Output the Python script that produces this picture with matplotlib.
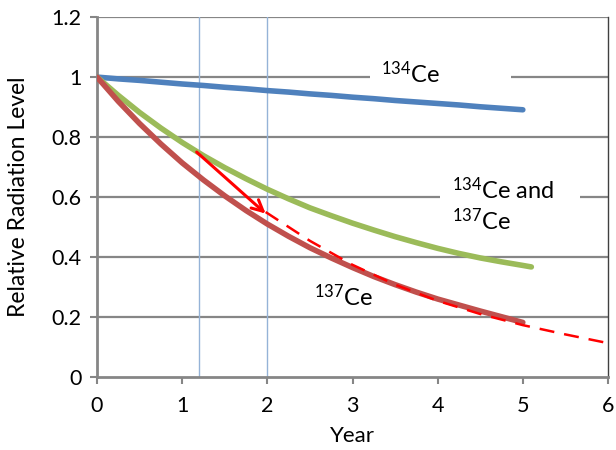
import matplotlib
matplotlib.use("Agg")
import matplotlib.pyplot as plt
from matplotlib.patches import Rectangle

plt.rcParams['font.family'] = ['Lato', 'DejaVu Sans']
plt.rcParams['mathtext.fontset'] = 'custom'
plt.rcParams['mathtext.rm'] = 'Lato'
plt.rcParams['mathtext.it'] = 'Lato'

# values
years = [0, 0.25, 0.5, 0.75, 1, 1.25, 1.5, 1.75, 2, 2.25, 2.5, 2.75, 3,
         3.25, 3.5, 3.75, 4, 4.25, 4.5, 4.75, 5]
blue = [1, 0.994, 0.989, 0.983, 0.977, 0.972, 0.966, 0.961, 0.955, 0.950,
        0.944, 0.939, 0.933, 0.928, 0.922, 0.917, 0.912, 0.907, 0.901, 0.896, 0.891]
red = [1, 0.919, 0.845, 0.777, 0.714, 0.657, 0.604, 0.555, 0.510, 0.469,
       0.431, 0.397, 0.365, 0.335, 0.308, 0.283, 0.260, 0.240, 0.220, 0.201, 0.182]
green_years = years + [5.1]
green = [1, 0.939, 0.882, 0.830, 0.782, 0.738, 0.698, 0.661, 0.626, 0.594,
         0.564, 0.538, 0.513, 0.490, 0.468, 0.448, 0.429, 0.412, 0.397, 0.384, 0.372, 0.367]
dash_years = [1.98, 2.5, 3, 3.5, 4, 4.5, 5, 5.5, 6]
dash = [0.55, 0.454, 0.374, 0.308, 0.254, 0.210, 0.173, 0.142, 0.113]
arrow_start = (1.17, 0.75)
arrow_end = (1.98, 0.545)
vlines = [1.2, 2.0]

fig = plt.figure(figsize=(6.16, 4.5), dpi=100)
ax = fig.add_axes([0.1575, 0.1622, 0.8295, 0.7998])

for y in [0.2, 0.4, 0.6, 0.8, 1.0, 1.2]:
    ax.axhline(y, color='#868686', lw=1.6, zorder=1)
for x in vlines:
    ax.axvline(x, color='#95b3d7', lw=1.0, zorder=1)

ax.plot(years, blue, color='#4f81bd', lw=4, solid_capstyle='round', zorder=3)
ax.plot(green_years, green, color='#9bbb59', lw=4, solid_capstyle='round', zorder=3)
ax.plot(years, red, color='#c0504d', lw=4, solid_capstyle='round', zorder=3)
ax.plot(dash_years, dash, color='#ff0000', lw=1.8, dashes=(6, 4), zorder=4)
ax.annotate('', xy=arrow_end, xytext=arrow_start,
            arrowprops=dict(arrowstyle='->', color='#ff0000', lw=2.2,
                            mutation_scale=20, shrinkA=0, shrinkB=0), zorder=5)

# white text boxes
ax.add_patch(Rectangle((3.2, 0.95), 1.66, 0.12, facecolor='white', edgecolor='none', zorder=2))
ax.add_patch(Rectangle((4.03, 0.46), 1.64, 0.24, facecolor='white', edgecolor='none', zorder=2))
ax.text(3.34, 1.01, r'$^{134}$Ce', fontsize=17, va='center', ha='left', zorder=6)
ax.text(4.17, 0.624, r'$^{134}$Ce and', fontsize=17, va='center', ha='left', zorder=6)
ax.text(4.17, 0.522, r'$^{137}$Ce', fontsize=17, va='center', ha='left', zorder=6)
ax.text(2.55, 0.268, r'$^{137}$Ce', fontsize=17, va='center', ha='left', zorder=6)

ax.set_xlim(0, 6)
ax.set_ylim(0, 1.2)
ax.set_xticks(range(0, 7))
ax.set_yticks([0, 0.2, 0.4, 0.6, 0.8, 1.0, 1.2])
ax.set_yticklabels(['0', '0.2', '0.4', '0.6', '0.8', '1', '1.2'])
ax.tick_params(labelsize=15.5, color='#868686', width=1.5, length=5, direction='out')
ax.tick_params(axis='x', pad=9)
ax.tick_params(axis='y', pad=6)
ax.set_xlabel('Year', fontsize=16, labelpad=7)
ax.set_ylabel('Relative Radiation Level', fontsize=16.5, labelpad=16)

for s in ['left', 'bottom']:
    ax.spines[s].set_color('#868686')
    ax.spines[s].set_linewidth(2)
ax.spines['top'].set_visible(False)
ax.spines['right'].set_color('#404040')
ax.spines['right'].set_linewidth(1)

fig.savefig('out.png', dpi=100)
